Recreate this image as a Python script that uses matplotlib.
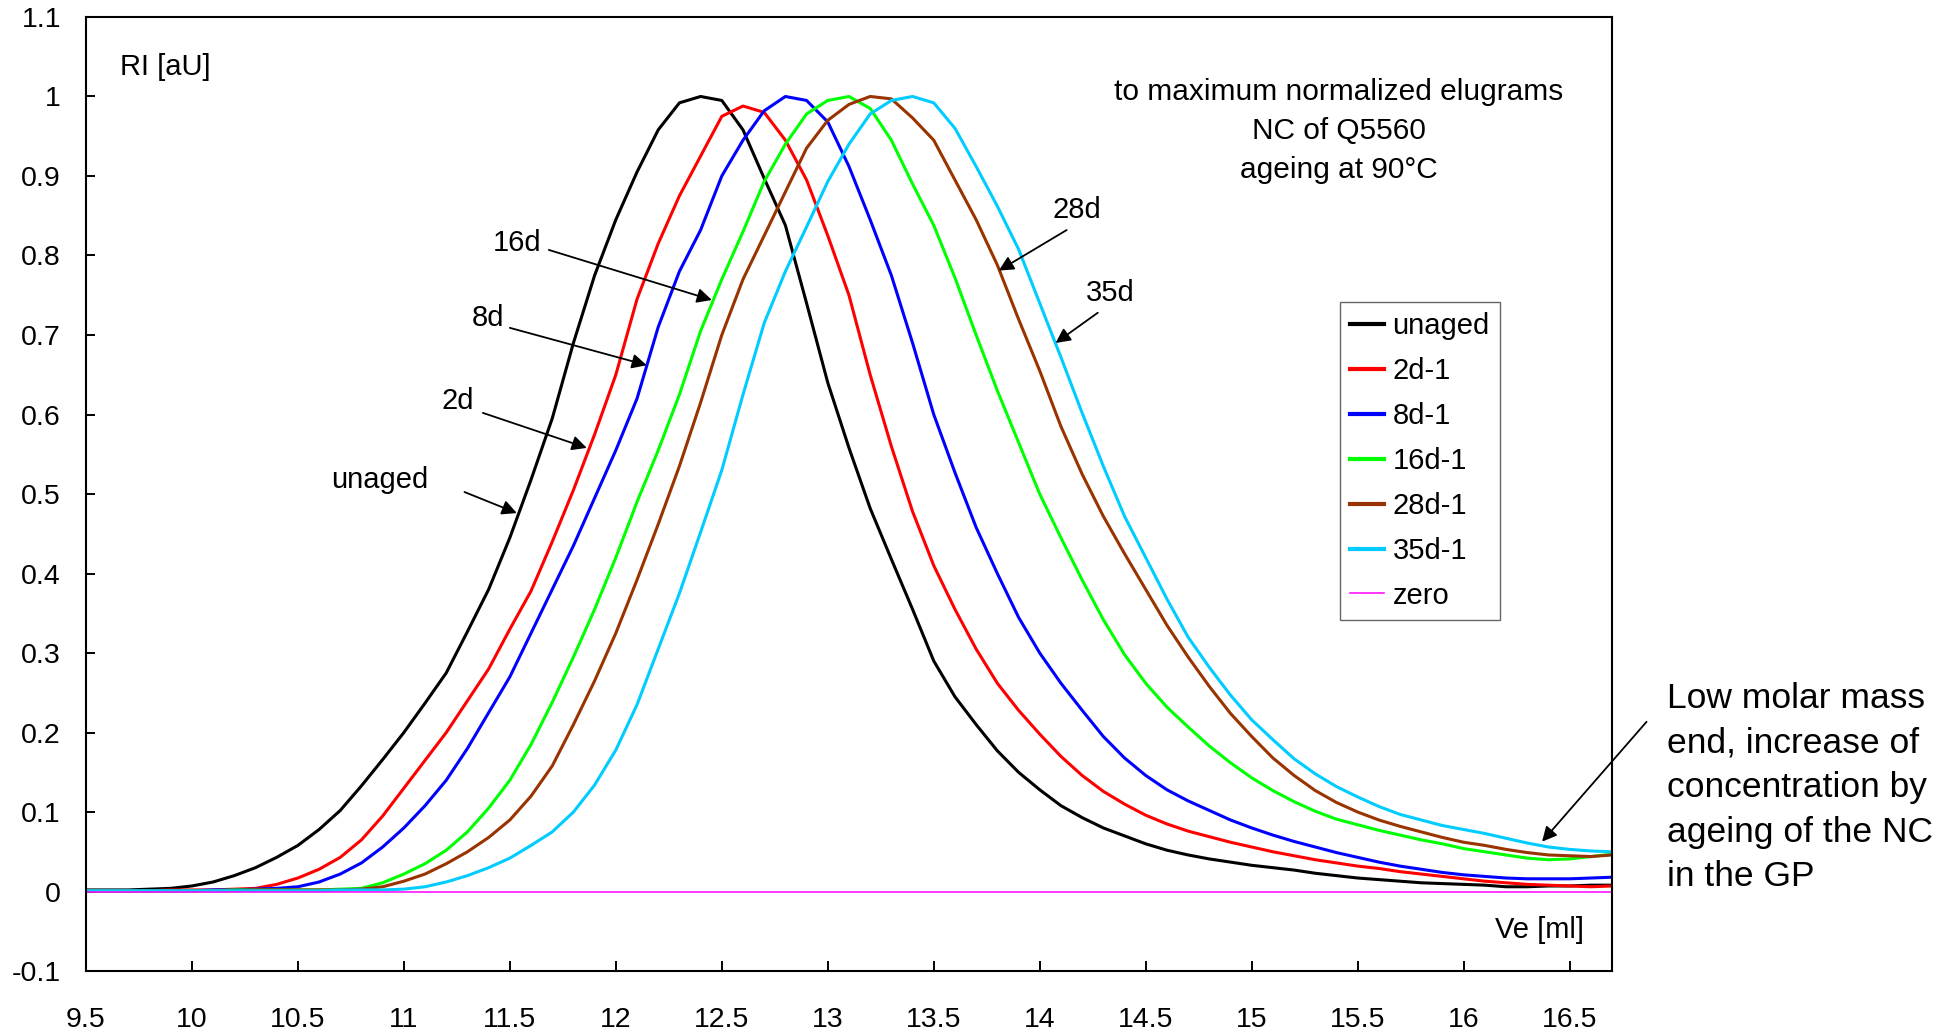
import numpy as np
import matplotlib
matplotlib.use("Agg")
import matplotlib.pyplot as plt

plt.rcParams['font.family'] = ['Liberation Sans', 'DejaVu Sans']

# elution volume grid [ml]
ve = np.round(np.arange(9.5, 16.75, 0.1), 1)

# RI signal, normalized to maximum
unaged = [0.002, 0.002, 0.002, 0.003, 0.004, 0.007, 0.012, 0.020, 0.030, 0.043,
          0.058, 0.078, 0.102, 0.133, 0.166, 0.200, 0.237, 0.275, 0.327, 0.380,
          0.445, 0.518, 0.595, 0.690, 0.775, 0.845, 0.905, 0.958, 0.992, 1.000,
          0.995, 0.958, 0.897, 0.838, 0.740, 0.640, 0.558, 0.482, 0.418, 0.355,
          0.290, 0.245, 0.210, 0.177, 0.150, 0.128, 0.108, 0.093, 0.080, 0.070,
          0.060, 0.052, 0.046, 0.041, 0.037, 0.033, 0.030, 0.027, 0.023, 0.020,
          0.017, 0.015, 0.013, 0.011, 0.010, 0.009, 0.008, 0.006, 0.006, 0.007,
          0.007, 0.008, 0.008]
d2 = [0.001, 0.001, 0.001, 0.001, 0.002, 0.002, 0.002, 0.003, 0.004, 0.009,
      0.017, 0.028, 0.043, 0.065, 0.095, 0.130, 0.165, 0.200, 0.240, 0.280,
      0.330, 0.378, 0.440, 0.505, 0.575, 0.650, 0.745, 0.815, 0.875, 0.925,
      0.975, 0.988, 0.980, 0.945, 0.895, 0.825, 0.750, 0.650, 0.560, 0.478,
      0.410, 0.355, 0.305, 0.262, 0.228, 0.198, 0.170, 0.146, 0.126, 0.110,
      0.096, 0.085, 0.076, 0.069, 0.062, 0.056, 0.050, 0.045, 0.040, 0.036,
      0.032, 0.029, 0.025, 0.022, 0.019, 0.016, 0.013, 0.011, 0.009, 0.008,
      0.007, 0.006, 0.007]
d8 = [0.001, 0.001, 0.001, 0.001, 0.001, 0.001, 0.002, 0.002, 0.003, 0.004,
      0.006, 0.012, 0.022, 0.036, 0.056, 0.080, 0.108, 0.140, 0.180, 0.225,
      0.270, 0.325, 0.380, 0.435, 0.495, 0.555, 0.620, 0.710, 0.780, 0.832,
      0.900, 0.945, 0.982, 1.000, 0.995, 0.968, 0.912, 0.845, 0.775, 0.690,
      0.600, 0.527, 0.458, 0.400, 0.345, 0.300, 0.262, 0.228, 0.195, 0.168,
      0.146, 0.128, 0.114, 0.102, 0.090, 0.080, 0.071, 0.063, 0.056, 0.049,
      0.043, 0.037, 0.032, 0.028, 0.024, 0.021, 0.019, 0.017, 0.016, 0.016,
      0.016, 0.017, 0.018]
d16 = [0.001, 0.001, 0.001, 0.001, 0.001, 0.001, 0.001, 0.002, 0.002, 0.002,
       0.002, 0.002, 0.003, 0.004, 0.011, 0.022, 0.035, 0.052, 0.075, 0.105,
       0.140, 0.185, 0.238, 0.295, 0.355, 0.420, 0.490, 0.555, 0.625, 0.705,
       0.770, 0.830, 0.893, 0.940, 0.978, 0.995, 1.000, 0.985, 0.945, 0.890,
       0.838, 0.772, 0.700, 0.630, 0.565, 0.500, 0.445, 0.392, 0.342, 0.298,
       0.262, 0.232, 0.207, 0.183, 0.162, 0.143, 0.127, 0.113, 0.101, 0.091,
       0.084, 0.077, 0.071, 0.065, 0.060, 0.054, 0.050, 0.046, 0.042, 0.040,
       0.041, 0.044, 0.047]
d28 = [0.001, 0.001, 0.001, 0.001, 0.001, 0.001, 0.001, 0.001, 0.002, 0.002,
       0.002, 0.002, 0.002, 0.003, 0.006, 0.013, 0.022, 0.035, 0.050, 0.068,
       0.090, 0.120, 0.158, 0.210, 0.265, 0.325, 0.392, 0.462, 0.535, 0.615,
       0.700, 0.770, 0.825, 0.880, 0.935, 0.970, 0.990, 1.000, 0.997, 0.973,
       0.945, 0.895, 0.845, 0.788, 0.720, 0.655, 0.585, 0.525, 0.472, 0.425,
       0.380, 0.335, 0.295, 0.258, 0.224, 0.195, 0.168, 0.146, 0.127, 0.112,
       0.100, 0.090, 0.082, 0.075, 0.068, 0.062, 0.058, 0.053, 0.049, 0.046,
       0.045, 0.044, 0.046]
d35 = [0.001, 0.001, 0.001, 0.001, 0.001, 0.001, 0.001, 0.001, 0.001, 0.001,
       0.001, 0.001, 0.002, 0.002, 0.002, 0.003, 0.006, 0.012, 0.020, 0.030,
       0.042, 0.058, 0.075, 0.100, 0.134, 0.178, 0.235, 0.305, 0.375, 0.452,
       0.530, 0.625, 0.715, 0.780, 0.836, 0.893, 0.940, 0.978, 0.995, 1.000,
       0.992, 0.960, 0.912, 0.862, 0.808, 0.740, 0.672, 0.602, 0.535, 0.472,
       0.420, 0.368, 0.320, 0.282, 0.247, 0.216, 0.191, 0.167, 0.148, 0.132,
       0.119, 0.107, 0.097, 0.090, 0.083, 0.078, 0.073, 0.067, 0.061, 0.056,
       0.053, 0.051, 0.050]
zero = [0.0] * len(ve)

series = [("unaged", unaged, "#000000"),
          ("2d-1", d2, "#ff0000"),
          ("8d-1", d8, "#0000ff"),
          ("16d-1", d16, "#00ff00"),
          ("28d-1", d28, "#993300"),
          ("35d-1", d35, "#00ccff")]

xticks = [9.5, 10, 10.5, 11, 11.5, 12, 12.5, 13, 13.5, 14, 14.5, 15, 15.5, 16, 16.5]
yticks = [-0.1, 0, 0.1, 0.2, 0.3, 0.4, 0.5, 0.6, 0.7, 0.8, 0.9, 1, 1.1]

fig = plt.figure(figsize=(19.53, 10.35), dpi=100)
ax = fig.add_axes([0.044, 0.0618, 0.7814, 0.9218])

for name, y, c in series:
    ax.plot(ve, y, color=c, lw=2.2, label=name)
ax.plot(ve, zero, color="#ff00ff", lw=1.1, label="zero")

ax.set_xlim(9.5, 16.7)
ax.set_ylim(-0.1, 1.1)
ax.set_xticks(xticks)
ax.set_xticklabels(["%g" % v for v in xticks])
ax.set_yticks(yticks)
ax.set_yticklabels(["%g" % v for v in yticks])
ax.tick_params(axis="x", direction="in", length=7, width=1.4, labelsize=20.5, pad=26)
ax.tick_params(axis="y", direction="in", length=6.5, width=1.4, labelsize=20.5, pad=18)
for s in ax.spines.values():
    s.set_linewidth(1.5)

leg = ax.legend(loc="upper left", bbox_to_anchor=(0.8218, 0.7013), fontsize=21,
                frameon=True, fancybox=False, edgecolor="#404040",
                handlelength=1.15, handletextpad=0.3, labelspacing=0.58,
                borderpad=0.35, borderaxespad=0)
leg.get_frame().set_linewidth(1.0)
for h in leg.get_lines()[:-1]:
    h.set_linewidth(3)

ax.text(9.66, 1.037, "RI [aU]", fontsize=21, ha="left", va="center")
ax.text(16.566, -0.048, "Ve [ml]", fontsize=21, ha="right", va="center")
ax.text(15.41, 0.957, "to maximum normalized elugrams\nNC of Q5560\nageing at 90°C",
        fontsize=21.5, ha="center", va="center", ma="center", linespacing=1.5)

arrow = dict(arrowstyle="-|>", color="black", lw=1.3, mutation_scale=22, shrinkA=0, shrinkB=0)
labels = [("unaged", (10.887, 0.518), (11.286, 0.5025), (11.533, 0.476)),
          ("2d", (11.255, 0.617), (11.373, 0.602), (11.863, 0.558)),
          ("8d", (11.397, 0.722), (11.50, 0.709), (12.146, 0.662)),
          ("16d", (11.533, 0.816), (11.684, 0.807), (12.453, 0.744)),
          ("28d", (14.175, 0.857), (14.127, 0.832), (13.807, 0.781)),
          ("35d", (14.335, 0.753), (14.274, 0.728), (14.075, 0.690))]
for txt, tpos, start, tip in labels:
    ax.text(tpos[0], tpos[1], txt, fontsize=21, ha="center", va="center")
    ax.annotate("", xy=tip, xytext=start, arrowprops=arrow)

ax.annotate("", xy=(16.37, 0.0627), xytext=(16.863, 0.2135), arrowprops=arrow,
            annotation_clip=False)
ax.text(16.958, 0.264, "Low molar mass\nend, increase of\nconcentration by\nageing of the NC\nin the GP",
        fontsize=25.5, ha="left", va="top", linespacing=1.45, clip_on=False)

fig.savefig("out.png", dpi=100)
